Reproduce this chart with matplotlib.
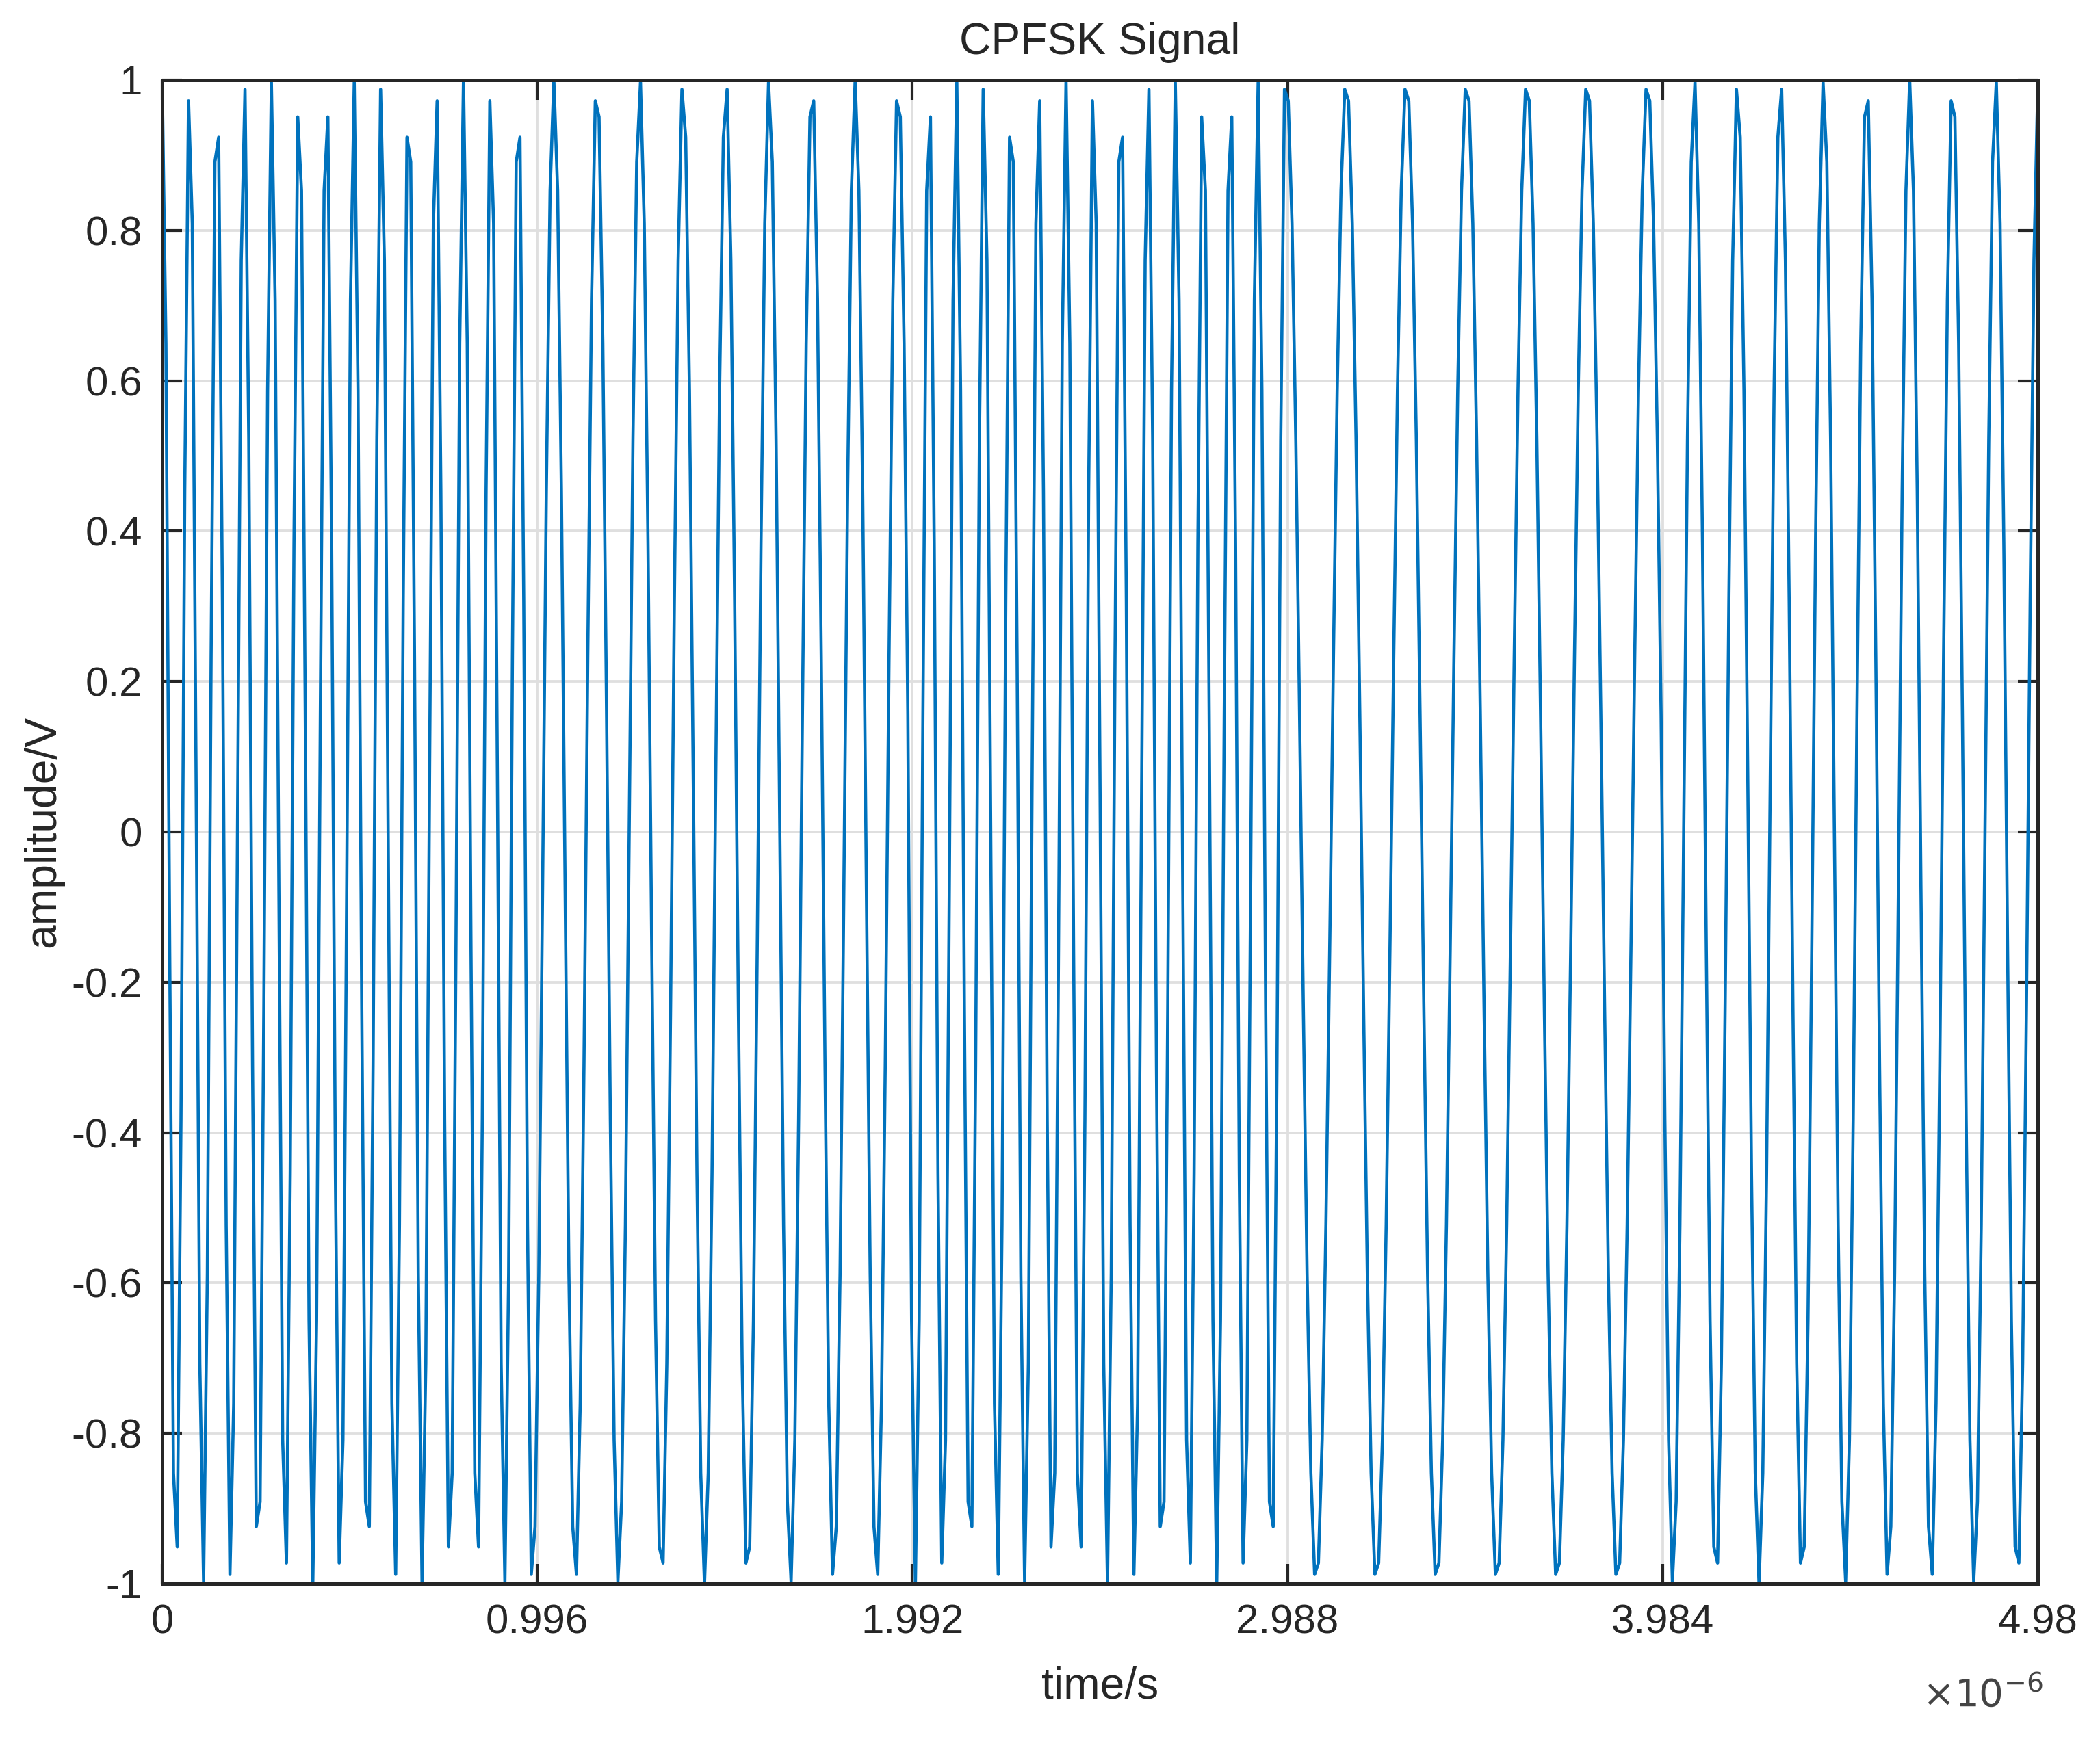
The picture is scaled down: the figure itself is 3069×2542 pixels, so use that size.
import numpy as np
import matplotlib
matplotlib.use('Agg')
import matplotlib.pyplot as plt

plt.rcParams['font.family'] = ['Liberation Sans', 'DejaVu Sans']
plt.rcParams['axes.unicode_minus'] = False

# 4-ary CPFSK: carrier 10 MHz, frequency step 1.25 MHz, symbols
symbols = [3, -1, 3, -3, -1]
fc = 10e6
df = 1.25e6
fs = 100e6          # 0.01 us per sample
sym_len = 100       # samples per symbol
sym_offset = 2      # plot starts two samples into the first symbol
n_samples = 499     # 0 ... 4.98 us

xtick_vals = [0, 0.996, 1.992, 2.988, 3.984, 4.98]
xtick_labels = ['0', '0.996', '1.992', '2.988', '3.984', '4.98']
ytick_vals = [-1, -0.8, -0.6, -0.4, -0.2, 0, 0.2, 0.4, 0.6, 0.8, 1]
ytick_labels = ['-1', '-0.8', '-0.6', '-0.4', '-0.2', '0', '0.2', '0.4', '0.6', '0.8', '1']

# continuous phase modulation
n = np.arange(n_samples)
t = n / fs
idx = np.minimum((n + sym_offset) // sym_len, len(symbols) - 1)
freq = fc + np.array(symbols)[idx] * df
phase = 2 * np.pi * np.concatenate([[0.0], np.cumsum(freq[:-1] / fs)])
s = np.cos(phase)

dark = '#262626'
fig = plt.figure(figsize=(3069 / 300, 2542 / 300), dpi=300)
ax = fig.add_axes([237 / 3069, 1 - 2315 / 2542, (2978 - 237) / 3069, (2315 - 117) / 2542])

ax.plot(t, s, color='#0072BD', lw=1.1)

ax.set_xlim(0, 4.98e-6)
ax.set_ylim(-1, 1)
ax.set_xticks(np.array(xtick_vals) * 1e-6)
ax.set_xticklabels(xtick_labels)
ax.set_yticks(ytick_vals)
ax.set_yticklabels(ytick_labels)

ax.grid(True, color='#dfdfdf', lw=0.9)
ax.set_axisbelow(True)
ax.tick_params(direction='in', length=7, width=1.0, top=True, right=True,
               labelsize=14.4, color=dark, labelcolor=dark, pad=7)
for sp in ax.spines.values():
    sp.set_linewidth(1.2)
    sp.set_color(dark)

ax.set_title('CPFSK Signal', fontsize=15.4, color=dark, pad=9)
ax.set_xlabel('time/s', fontsize=15.4, color=dark)
ax.xaxis.set_label_coords(0.5, -(2466 - 2315) / 2198)
ax.xaxis.label.set_va('center')
ax.set_ylabel('amplitude/V', fontsize=15.4, color=dark)
ax.yaxis.set_label_coords(-(237 - 63) / 2741, 0.5)
ax.yaxis.label.set_va('center')

ax.text(1.003, -(2478 - 2315) / 2198, r'$\times10^{-6}$', transform=ax.transAxes,
        ha='right', va='center', fontsize=13.5, color='#444444')

fig.savefig('out.png', dpi=300)
